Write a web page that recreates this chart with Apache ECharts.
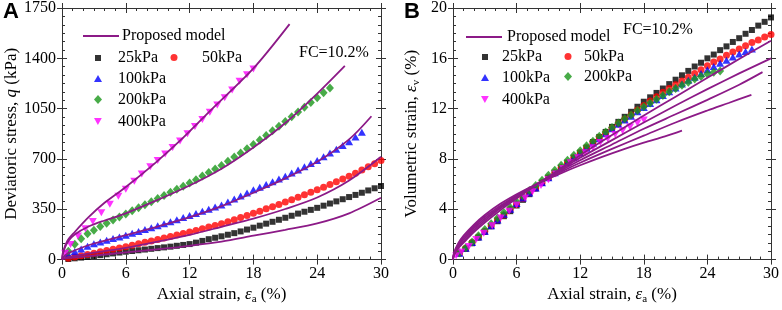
<!DOCTYPE html>
<html>
<head>
<meta charset="utf-8">
<script src="https://cdn.jsdelivr.net/npm/echarts@6/dist/echarts.min.js"></script>
<style>
html, body { margin: 0; padding: 0; background: #fff; }
#chart { width: 782px; height: 310px; }
</style>
</head>
<body>
<div id="chart"></div>
<script>
// measured strain points (shared by both panels)
const strainExp = [0.6,1.2,1.8,2.4,3.0,3.6,4.2,4.8,5.4,6.0,6.6,7.2,7.8,8.4,9.0,9.6,10.2,10.8,11.4,12.0,
  12.6,13.2,13.8,14.4,15.0,15.6,16.2,16.8,17.4,18.0,18.6,19.2,19.8,20.4,21.0,21.6,22.2,22.8,23.4,24.0,
  24.6,25.2,25.8,26.4,27.0,27.6,28.2,28.8,29.4,30.0]
const strain400 = [0.3,0.8,1.5,2.2,2.9,3.7,4.5,5.3,6.0,6.8,7.5,8.3,9.0,9.7,10.4,11.1,11.8,12.5,13.2,13.9,
  14.6,15.3,16.0,16.7,17.4,18.0]

// deviatoric stress q (kPa)
const q25 = [4,9,14,19,25,31,37,43,49,55,60,65,70,75,80,85,90,96,102,108,118,130,142,152,162,173,184,196,209,222,
  236,250,263,277,291,305,320,333,346,360,375,390,405,420,435,450,465,481,496,512]
const q50 = [9,18,27,36,45,54,63,72,81,90,100,110,120,130,140,150,160,171,181,192,203,215,226,238,250,264,278,293,307,322,
  337,353,368,384,400,417,434,451,468,485,504,523,542,561,580,601,623,645,667,690]
const q100 = [35,56,74,92,110,122,134,146,158,170,183,196,209,222,235,249,263,278,292,306,321,336,350,365,380,
  400,421,442,463,485,504,523,542,561,580,602,624,646,668,690,716,742,768,794,820,852,885]
const q200 = [58,106,145,180,205,230,252,275,296,317,339,360,382,403,425,446,468,489,511,532,556,581,605,630,655,
  684,713,742,771,800,832,864,896,928,960,993,1026,1059,1092,1125,1160,1194]
const q400 = [45,105,165,215,265,325,385,440,490,545,595,645,690,735,780,825,875,925,975,1025,1075,1125,1180,1240,1285,1325]

// volumetric strain (%)
const ev25 = [0.5,0.85,1.3,1.75,2.2,2.65,3.05,3.45,3.85,4.3,4.75,5.2,5.65,6.1,6.5,6.9,7.3,7.7,8.1,8.5,
  8.9,9.35,9.75,10.15,10.55,10.95,11.35,11.75,12.15,12.55,12.9,13.25,13.6,13.95,14.3,14.65,15.0,15.35,15.65,16.0,
  16.3,16.65,16.95,17.3,17.6,17.95,18.25,18.6,18.9,19.25]
const ev50 = [0.5,0.9,1.35,1.8,2.25,2.7,3.15,3.55,4.0,4.4,4.85,5.3,5.7,6.1,6.5,6.9,7.3,7.7,8.1,8.5,
  8.9,9.3,9.7,10.05,10.45,10.8,11.15,11.5,11.9,12.25,12.6,12.95,13.3,13.6,13.9,14.2,14.5,14.8,15.1,15.4,
  15.7,15.95,16.25,16.5,16.75,17.0,17.25,17.45,17.7,17.9]
const ev100 = [0.5,0.9,1.35,1.8,2.25,2.7,3.15,3.6,4.0,4.45,4.9,5.3,5.7,6.1,6.5,6.9,7.3,7.7,8.1,8.45,
  8.85,9.25,9.6,10.0,10.4,10.75,11.1,11.4,11.75,12.1,12.4,12.7,13.05,13.35,13.65,13.95,14.25,14.5,14.8,15.1,
  15.35,15.6,15.85,16.1,16.35,16.55,16.75]
const ev200 = [0.55,0.95,1.4,1.9,2.4,2.85,3.3,3.75,4.15,4.6,5.05,5.5,5.9,6.3,6.7,7.1,7.5,7.9,8.3,8.65,
  9.05,9.4,9.8,10.15,10.5,10.85,11.2,11.5,11.85,12.15,12.45,12.75,13.05,13.35,13.6,13.85,14.1,14.35,14.55,14.75,
  14.9,15.0]
const ev400 = [0.3,0.6,1.05,1.6,2.1,2.7,3.3,3.85,4.35,4.9,5.4,5.9,6.35,6.8,7.25,7.7,8.1,8.5,8.9,9.3,
  9.6,9.95,10.25,10.55,10.85,11.1]

// proposed model, panel A
const mqStrain = [0,0.3,1,3,6,9,12,15,18,21,24,27,30]
const mq25 = [0,8,14,28,50,72,96,125,166,207,252,322,430]
const mq50 = [0,12,22,48,82,125,172,228,285,352,432,550,715]
const mq100Strain = [0,0.3,1,3,6,9,12,15,18,21,24,27,29.1]
const mq100 = [0,30,58,112,170,230,295,372,465,565,680,836,997]
const mq200Strain = [0,0.2,0.6,1.2,2.5,4,6,9,12,15,18,21,24,26.6]
const mq200 = [0,70,130,175,230,272,322,415,515,632,780,950,1155,1348]
const mq400Strain = [0,0.1,0.5,1.2,2.5,4,6,8.7,11.1,14,18,21.4]
const mq400 = [0,55,130,192,295,395,505,668,827,1040,1330,1638]

// proposed model, panel B
const mvStrain = [0,0.1,0.5,1,2,3,4.5,6,8,10,12,15,18,21,24,27,30]
const mv25 = [0,0.35,0.9,1.35,2.2,2.95,3.95,4.85,6.0,7.15,8.3,9.9,11.45,12.95,14.45,15.95,17.4]
const mv50 = [0,0.4,1.0,1.45,2.35,3.1,4.1,4.95,6.05,7.1,8.1,9.5,10.9,12.25,13.55,14.8,16.0]
const mv100Strain = [0,0.1,0.5,1,2,3,4.5,6,8,10,12,15,18,21,24,27,29.2]
const mv100 = [0,0.45,1.1,1.6,2.5,3.25,4.2,5.05,6.05,7.0,7.9,9.15,10.4,11.55,12.7,13.9,14.9]
const mv200Strain = [0,0.1,0.5,1,2,3,4.5,6,8,10,12,15,18,21,24,26,28.15]
const mv200 = [0,0.5,1.2,1.75,2.65,3.4,4.3,5.1,6.05,6.9,7.7,8.8,9.85,10.9,11.85,12.45,13.1]
const mv400Strain = [0,0.1,0.5,1,2,3,4.5,6,8,10,12,14,16,18,20,21.6]
const mv400 = [0,0.55,1.3,1.9,2.8,3.55,4.45,5.2,6.05,6.8,7.5,8.15,8.75,9.3,9.8,10.25]

const xTicks = { min: 0, max: 30, interval: 6 }
const qTicks = { min: 0, max: 1750, interval: 350 }
const evTicks = { min: 0, max: 20, interval: 4 }

const FONT = '"Liberation Serif", "Times New Roman", serif'
const AXIS = '#333'
const MODEL = '#8c1a87'
const tickLine = { color: AXIS, width: 1 }

const nameStyle = {
  fontFamily: FONT, fontSize: 17, color: '#000',
  rich: {
    n: { fontFamily: FONT, fontSize: 17, color: '#000', lineHeight: 20 },
    i: { fontFamily: FONT, fontSize: 17, color: '#000', fontStyle: 'italic', lineHeight: 20 },
    s: { fontFamily: FONT, fontSize: 11, color: '#000', lineHeight: 11, verticalAlign: 'bottom' }
  }
}

const pairs = (xs, ys) => ys.map((y, i) => [xs[i], y])

// a framed box: every side gets crossing major ticks and inward minor ticks
function axesFor (grid, ticks, sides, label) {
  const common = Object.assign({
    type: 'value', gridIndex: grid,
    splitLine: { show: false },
    axisLine: { show: true, onZero: false, lineStyle: tickLine },
    axisLabel: { show: false },
    axisTick: { show: true, inside: false, length: 5, lineStyle: tickLine }
  }, ticks)
  const inner = {
    axisTick: { show: true, inside: true, length: 5, lineStyle: tickLine },
    minorTick: { show: true, splitNumber: 6, length: 3, lineStyle: tickLine }
  }
  return [
    Object.assign({}, common, { position: sides[0] }, label),
    Object.assign({}, common, { position: sides[0] }, inner),
    Object.assign({}, common, { position: sides[1] }),
    Object.assign({}, common, { position: sides[1] }, inner)
  ]
}

const tickLabel = { show: true, fontFamily: FONT, fontSize: 16, color: '#000', margin: 6, formatter: v => String(v) }
const xName = '{n|Axial strain, }{i|ε}{s|a}{n| (%)}'

const xAxis = [].concat(
  axesFor(0, xTicks, ['bottom', 'top'], { axisLabel: tickLabel, name: xName, nameLocation: 'middle', nameGap: 21, nameTextStyle: nameStyle }),
  axesFor(1, xTicks, ['bottom', 'top'], { axisLabel: tickLabel, name: xName, nameLocation: 'middle', nameGap: 21, nameTextStyle: nameStyle })
)
const yAxis = [].concat(
  axesFor(0, qTicks, ['left', 'right'], { axisLabel: tickLabel, name: '{n|Deviatoric stress, }{i|q}{n| (kPa)}', nameLocation: 'middle', nameGap: 39, nameTextStyle: nameStyle }),
  axesFor(1, evTicks, ['left', 'right'], { axisLabel: tickLabel, name: '{n|Volumetric strain, }{i|ε}{s|v}{n| (%)}', nameLocation: 'middle', nameGap: 31, nameTextStyle: nameStyle })
)

const markers = {
  '25kPa': { symbol: 'rect', size: 6, color: '#000000' },
  '50kPa': { symbol: 'circle', size: 7, color: '#ff0000' },
  '100kPa': { symbol: 'triangle', size: [8, 7], color: '#0000ff' },
  '200kPa': { symbol: 'diamond', size: [8, 9], color: '#1a961a' },
  '400kPa': { symbol: 'path://M0,0L10,0L5,9Z', size: [8, 7], color: '#ff00ff' }
}

function scatter (name, axis, data) {
  const m = markers[name]
  return {
    name, type: 'scatter', xAxisIndex: axis, yAxisIndex: axis, data,
    symbol: m.symbol, symbolSize: m.size, itemStyle: { color: m.color }, z: 2
  }
}

function model (axis, data) {
  return {
    name: 'Proposed model', type: 'line', xAxisIndex: axis, yAxisIndex: axis, data,
    symbol: 'none', smooth: 0.3, lineStyle: { color: MODEL, width: 1.8 }, itemStyle: { color: MODEL }, z: 3
  }
}

const series = [
  scatter('25kPa', 0, pairs(strainExp, q25)),
  scatter('50kPa', 0, pairs(strainExp, q50)),
  scatter('100kPa', 0, pairs(strainExp, q100)),
  scatter('200kPa', 0, pairs(strainExp, q200)),
  scatter('400kPa', 0, pairs(strain400, q400)),
  model(0, pairs(mqStrain, mq25)),
  model(0, pairs(mqStrain, mq50)),
  model(0, pairs(mq100Strain, mq100)),
  model(0, pairs(mq200Strain, mq200)),
  model(0, pairs(mq400Strain, mq400)),
  scatter('25kPa', 4, pairs(strainExp, ev25)),
  scatter('50kPa', 4, pairs(strainExp, ev50)),
  scatter('100kPa', 4, pairs(strainExp, ev100)),
  scatter('200kPa', 4, pairs(strainExp, ev200)),
  scatter('400kPa', 4, pairs(strain400, ev400)),
  model(4, pairs(mvStrain, mv25)),
  model(4, pairs(mvStrain, mv50)),
  model(4, pairs(mv100Strain, mv100)),
  model(4, pairs(mv200Strain, mv200)),
  model(4, pairs(mv400Strain, mv400))
]

// one legend component per entry so each can sit where the figure has it
function legendItem (name, cx, cy, textX, w, h) {
  const m = markers[name]
  const item = { name, icon: m ? m.symbol : 'rect' }
  const left = m ? cx - w / 2 : cx
  return {
    data: [item], left, top: cy - h / 2, itemWidth: w, itemHeight: h, padding: 0,
    selectedMode: false,
    textStyle: { fontFamily: FONT, fontSize: 16, color: '#000', lineHeight: 16, padding: [0, 0, 0, textX - (left + w + 5)] }
  }
}

const legend = [
  legendItem('Proposed model', 83, 29, 122, 36, 2),
  legendItem('25kPa', 98, 53, 118, 6, 6),
  legendItem('50kPa', 174, 53, 202, 7, 7),
  legendItem('100kPa', 98, 74, 118, 8, 7),
  legendItem('200kPa', 98, 96, 118, 8, 9),
  legendItem('400kPa', 98, 117, 118, 8, 7),
  legendItem('Proposed model', 466, 30, 507, 36, 2),
  legendItem('25kPa', 485, 52, 502, 6, 6),
  legendItem('50kPa', 568, 52, 584, 7, 7),
  legendItem('100kPa', 485, 73, 502, 8, 7),
  legendItem('200kPa', 568, 73, 584, 8, 9),
  legendItem('400kPa', 485, 95, 502, 8, 7)
]

const chart = echarts.init(document.getElementById('chart'))
chart.setOption({
  animation: false,
  backgroundColor: '#fff',
  textStyle: { fontFamily: FONT },
  grid: [
    { left: 62, top: 8, width: 319, height: 257 },
    { left: 453, top: 8, width: 319, height: 257 }
  ],
  xAxis,
  yAxis,
  legend,
  series,
  graphic: [
    { type: 'text', left: 3, top: 1, style: { text: 'A', font: 'bold 22px "Liberation Sans"', fill: '#000' } },
    { type: 'text', left: 404, top: 1, style: { text: 'B', font: 'bold 22px "Liberation Sans"', fill: '#000' } },
    { type: 'text', left: 299, top: 45, style: { text: 'FC=10.2%', font: '16px "Liberation Serif"', fill: '#000' } },
    { type: 'text', left: 623, top: 22, style: { text: 'FC=10.2%', font: '16px "Liberation Serif"', fill: '#000' } }
  ]
})
</script>
</body>
</html>
